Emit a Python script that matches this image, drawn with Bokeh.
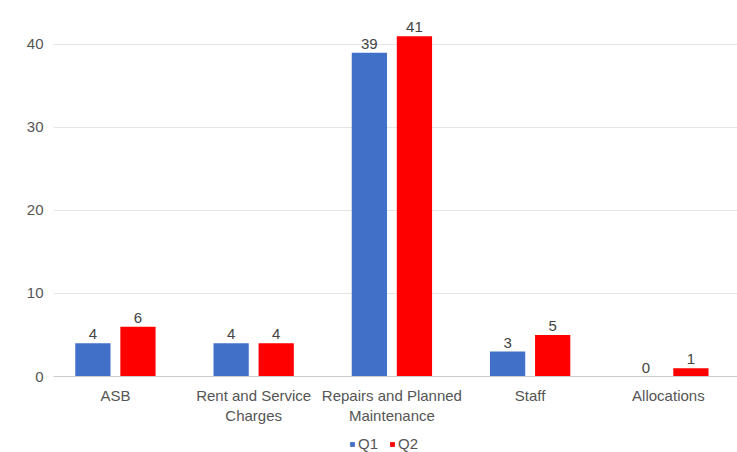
from bokeh.plotting import figure
from bokeh.models import Range1d, FixedTicker, Legend, LegendItem, ColumnDataSource
from bokeh.layouts import column
from bokeh.core.properties import value
from bokeh.embed import file_html
from bokeh.resources import INLINE
from bokeh.transform import dodge

categories = ["ASB", "Rent and Service\nCharges", "Repairs and Planned\nMaintenance", "Staff", "Allocations"]
q1 = [4, 4, 39, 3, 0]
q2 = [6, 4, 41, 5, 1]
y_ticks = [0, 10, 20, 30, 40]
series_names = ["Q1", "Q2"]

FONT = "Liberation Sans"
BLUE = "#4170C8"
RED = "#FF0000"
TXT = "#555555"

xs = list(range(len(categories)))
src = ColumnDataSource(dict(x=xs, q1=q1, q2=q2,
                            q1s=[str(v) for v in q1], q2s=[str(v) for v in q2]))

p = figure(width=737, height=430, output_backend="svg", toolbar_location=None,
           x_range=Range1d(-0.448, len(categories) - 0.5), y_range=Range1d(0, 45.3),
           min_border_left=53, min_border_right=0, min_border_top=0, min_border_bottom=54)
p.outline_line_color = None
p.background_fill_color = "white"

OFF = 0.163
BW = 0.255
r1 = p.vbar(x=dodge("x", -OFF, range=p.x_range), top="q1", width=BW, source=src,
            color=BLUE, line_color=None)
r2 = p.vbar(x=dodge("x", OFF, range=p.x_range), top="q2", width=BW, source=src,
            color=RED, line_color=None)

for off, col in ((-OFF, "q1s"), (OFF, "q2s")):
    p.text(x=dodge("x", off, range=p.x_range), y=col[:2], text=col, source=src,
           text_align="center", text_baseline="alphabetic", y_offset=-9,
           text_font_size="15px", text_color="#444444", text_font=value(FONT))

p.xgrid.grid_line_color = None
p.ygrid.grid_line_color = "#e6e6e6"
p.ygrid.ticker = FixedTicker(ticks=y_ticks)

p.yaxis.ticker = FixedTicker(ticks=y_ticks)
p.yaxis.axis_line_color = None
p.yaxis.major_tick_line_color = None
p.yaxis.minor_tick_line_color = None
p.yaxis.major_tick_out = 0
p.yaxis.major_label_text_font = FONT
p.yaxis.major_label_text_font_size = "15px"
p.yaxis.major_label_text_color = TXT
p.yaxis.major_label_standoff = 10

p.xaxis.ticker = FixedTicker(ticks=xs)
p.xaxis.major_label_overrides = {i: c for i, c in enumerate(categories)}
p.xaxis.axis_line_color = "#cccccc"
p.xaxis.major_tick_line_color = None
p.xaxis.minor_tick_line_color = None
p.xaxis.major_tick_out = 0
p.xaxis.major_label_text_font = FONT
p.xaxis.major_label_text_font_size = "15px"
p.xaxis.major_label_text_color = TXT
p.xaxis.major_label_standoff = 10

# legend strip below the chart
lg = figure(width=737, height=22, output_backend="svg", toolbar_location=None,
            x_range=Range1d(0, 1), y_range=Range1d(0, 1),
            x_axis_location=None, y_axis_location=None,
            min_border=0, min_border_left=0, min_border_right=0, min_border_top=0, min_border_bottom=0)
lg.outline_line_color = None
lg.xgrid.visible = False
lg.ygrid.visible = False
e1 = lg.vbar(x=[0.5], top=[0], bottom=[0], width=0.0, color=BLUE, line_color=None)
e2 = lg.vbar(x=[0.5], top=[0], bottom=[0], width=0.0, color=RED, line_color=None)
legend = Legend(items=[LegendItem(label=series_names[0], renderers=[e1]),
                       LegendItem(label=series_names[1], renderers=[e2])],
                orientation="horizontal", location=(296, 0),
                glyph_width=6, glyph_height=6, label_text_font_size="15px",
                label_text_font=FONT, label_text_color=TXT,
                label_standoff=3, spacing=11, padding=0, margin=0,
                label_height=16, border_line_color=None, background_fill_alpha=0)
lg.add_layout(legend, "center")

layout = column(p, lg, spacing=0)
open("out.html", "w").write(file_html(layout, INLINE))
